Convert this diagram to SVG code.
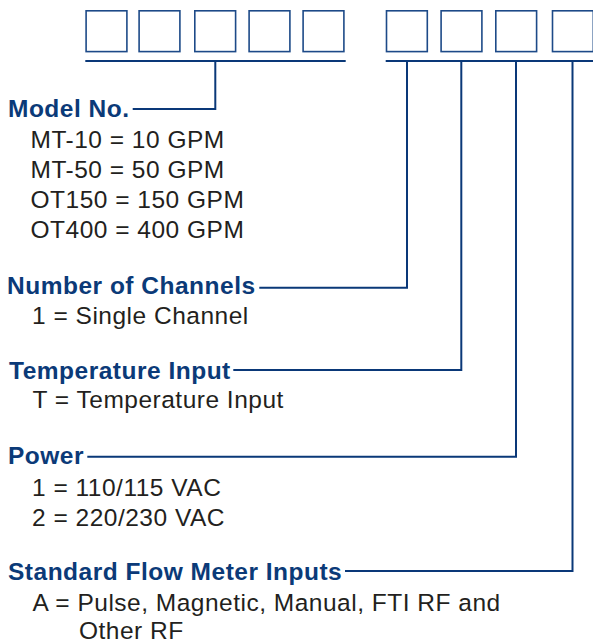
<svg xmlns="http://www.w3.org/2000/svg" width="593" height="642" viewBox="0 0 593 642">
  <style>
    .box { fill: #ffffff; stroke: #1d4a88; stroke-width: 1.6; }
    .bar { fill: none; stroke: #0a3878; stroke-width: 2.2; }
    .conn { fill: none; stroke: #0a3878; stroke-width: 2; }
    .h { font-family: "Liberation Sans", Arial, sans-serif; font-weight: bold; font-size: 24.5px; letter-spacing: 0.5px; fill: #0b3a78; }
    .t { font-family: "Liberation Sans", Arial, sans-serif; font-size: 24.5px; letter-spacing: 0.5px; fill: #231f20; }
  </style>
  <rect width="593" height="642" fill="#ffffff"/>

  <g id="code-boxes">
    <rect class="box" x="86.1" y="10.8" width="40.8" height="40.8"/>
    <rect class="box" x="139.1" y="10.8" width="40.8" height="40.8"/>
    <rect class="box" x="194.8" y="10.8" width="40.8" height="40.8"/>
    <rect class="box" x="249.1" y="10.8" width="40.8" height="40.8"/>
    <rect class="box" x="303.1" y="10.8" width="40.8" height="40.8"/>
    <rect class="box" x="386.5" y="10.8" width="40.8" height="40.8"/>
    <rect class="box" x="441.1" y="10.8" width="40.8" height="40.8"/>
    <rect class="box" x="495.8" y="10.8" width="40.8" height="40.8"/>
    <rect class="box" x="552.5" y="10.8" width="40.8" height="40.8"/>
  </g>

  <g id="connectors">
    <line class="bar" x1="85.3" y1="61" x2="345.7" y2="61"/>
    <line class="bar" x1="385.7" y1="61" x2="593" y2="61"/>
    <polyline class="conn" points="215.3,61 215.3,109 132.7,109"/>
    <polyline class="conn" points="407,61 407,287.7 259.3,287.7"/>
    <polyline class="conn" points="461.3,61 461.3,370 233.3,370"/>
    <polyline class="conn" points="516,61 516,456.7 87.3,456.7"/>
    <polyline class="conn" points="572.5,61 572.5,571 345,571"/>
  </g>

  <g id="model-no">
    <text class="h" x="8" y="117">Model No.</text>
    <text class="t" x="30.5" y="148.4">MT-10 = 10 GPM</text>
    <text class="t" x="30.5" y="177.6">MT-50 = 50 GPM</text>
    <text class="t" x="30.5" y="207.8">OT150 = 150 GPM</text>
    <text class="t" x="30.5" y="237.8">OT400 = 400 GPM</text>
  </g>

  <g id="number-of-channels">
    <text class="h" x="7" y="294.4">Number of Channels</text>
    <text class="t" x="32" y="324.4">1 = Single Channel</text>
  </g>

  <g id="temperature-input">
    <text class="h" x="9" y="378.5">Temperature Input</text>
    <text class="t" x="32.5" y="408.4">T = Temperature Input</text>
  </g>

  <g id="power">
    <text class="h" x="8" y="464.4">Power</text>
    <text class="t" x="32" y="496">1 = 110/115 VAC</text>
    <text class="t" x="32" y="525.7">2 = 220/230 VAC</text>
  </g>

  <g id="standard-flow-meter-inputs">
    <text class="h" x="8" y="580">Standard Flow Meter Inputs</text>
    <text class="t" x="32.5" y="611">A = Pulse, Magnetic, Manual, FTI RF and</text>
    <text class="t" x="79" y="638.5">Other RF</text>
  </g>
</svg>
